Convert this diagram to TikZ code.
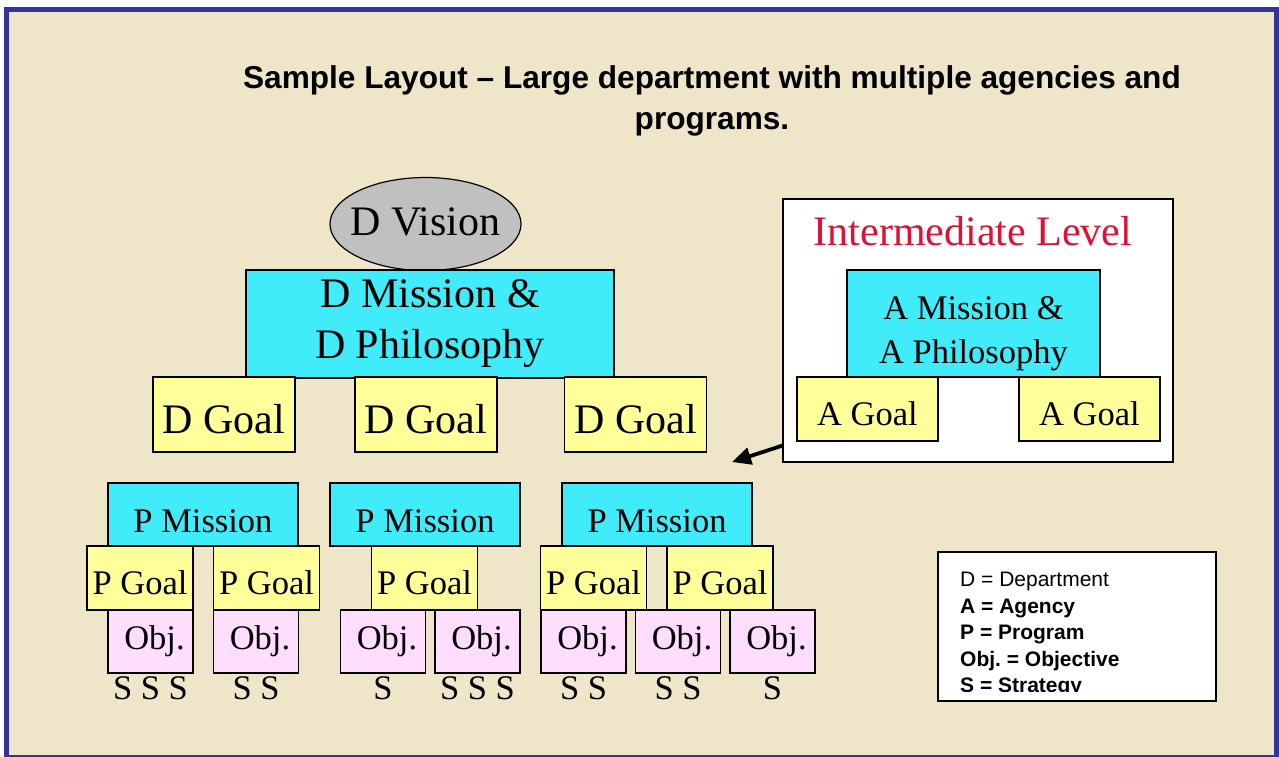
\documentclass[tikz,border=0pt]{standalone}
\usepackage{fontspec}
\setmainfont{Liberation Serif}
\setsansfont{Liberation Sans}
\usepackage{tikz}
\usetikzlibrary{positioning, shapes.geometric, arrows.meta}

\definecolor{slidebg}{RGB}{239,229,200}
\definecolor{slideframe}{RGB}{51,51,153}
\definecolor{deptcyan}{RGB}{64,236,250}
\definecolor{goalyellow}{RGB}{255,255,153}
\definecolor{objpink}{RGB}{255,221,255}
\definecolor{visiongray}{RGB}{192,192,192}
\definecolor{levelred}{RGB}{221,17,51}

\tikzset{
  every box/.style={draw=black, line width=1.2pt, inner sep=0pt},
  big text/.style={font=\fontsize{42}{51}\selectfont},
  mid text/.style={font=\fontsize{34.5}{44}\selectfont},
  vision box/.style={every box, ellipse, fill=visiongray, big text,
    inner sep=-10pt, minimum width=191pt, minimum height=93pt,
    text height=28pt, text depth=6pt},
  mission box/.style={every box, fill=deptcyan, align=center},
  goal box/.style={every box, fill=goalyellow},
  d goal/.style={big text, minimum width=142pt, minimum height=75pt,
    text height=37pt, text depth=0pt},
  p mission/.style={mid text, minimum width=190pt, minimum height=63pt,
    text height=35pt, text depth=0pt},
  p goal/.style={mid text, minimum width=106pt, minimum height=64pt,
    text height=33pt, text depth=0pt},
  a goal/.style={mid text, minimum width=141pt, minimum height=64pt,
    text height=32pt, text depth=0pt},
  obj box/.style={every box, fill=objpink, mid text, minimum width=85pt,
    minimum height=63pt, text height=24pt, text depth=8pt},
  strategy/.style={inner sep=0pt, mid text},
  slide title/.style={inner sep=0pt, align=center,
    font=\sffamily\bfseries\fontsize{31.6}{41}\selectfont},
  legend text/.style={inner sep=0pt, align=left,
    font=\sffamily\fontsize{21}{26.5}\selectfont},
}

\begin{document}
\begin{tikzpicture}[x=1pt, y=-1pt, >={Triangle[length=19pt, width=17pt]}]

\useasboundingbox (0,0) rectangle (1279,756);
\fill [white] (0,0) rectangle (1279,756);
\draw [slideframe, line width=5pt, fill=slidebg] (6.5,9.5) rectangle (1276.5,757);

\node [slide title, anchor=north] (title) at (712,65.5)
  {Sample Layout – Large department with multiple agencies and\\programs.};

%% department level
\node [vision box] (vision) at (425.5,224) {D Vision};
\node [mission box, big text, minimum width=368pt, minimum height=108pt]
  (d-mission) at (430,324) {D Mission \&\\D Philosophy};

\foreach \cx [count=\i] in {224,426,635.5}
  \node [goal box, d goal] (d-goal-\i) at (\cx,414.5) {D Goal};

%% program level
\foreach \cx [count=\i] in {203,425,657}
  \node [mission box, p mission] (p-mission-\i) at (\cx,514.5) {P Mission};

\foreach \cx [count=\i] in {140,266.5,424.5,593.5,720}
  \node [goal box, p goal] (p-goal-\i) at (\cx,578) {P Goal};

\foreach \cx [count=\i] in {150.5,256,383,477.5,583.5,678,772.5}
  \node [obj box] (obj-\i) at (\cx,641.5) {\hspace{8pt}Obj.};

\foreach \s [count=\i] in {S S S, S S, S, S S S, S S, S S, S}
  \node [strategy, below=3pt of obj-\i] (strat-\i) {\s};

%% intermediate level
\node [every box, fill=white, minimum width=390pt, minimum height=263pt]
  (inter) at (978,330.5) {};
\node [big text, text=levelred, inner sep=0pt] (inter-title) at (973,230.7)
  {Intermediate Level};
\node [mission box, mid text, minimum width=253pt, minimum height=107pt,
  text height=79pt, text depth=0pt] (a-mission) at (973.5,323.5)
  {A Mission \&\\A Philosophy};

\foreach \cx [count=\i] in {867.5,1089.5}
  \node [goal box, a goal] (a-goal-\i) at (\cx,409) {A Goal};

\coordinate (inter-arrow) at (732,462);
\draw [->, line width=3.8pt] ([yshift=17pt]inter.south west) -- (inter-arrow);

%% legend
\node [every box, fill=white, line width=1.6pt, minimum width=278pt,
  minimum height=149pt] (legend) at (1077,626.5) {};
\begin{scope}
  \clip (legend.north west) rectangle ([yshift=10.5pt]legend.south east);
  \node [legend text, anchor=north west] (legend-text)
    at ([xshift=22.8pt, yshift=-20.8pt]legend.north west)
    {D = Department\\\textbf{A = Agency}\\\textbf{P = Program}\\
     \textbf{Obj.\ = Objective}\\\textbf{S = Strategy}};
\end{scope}

\end{tikzpicture}
\end{document}
